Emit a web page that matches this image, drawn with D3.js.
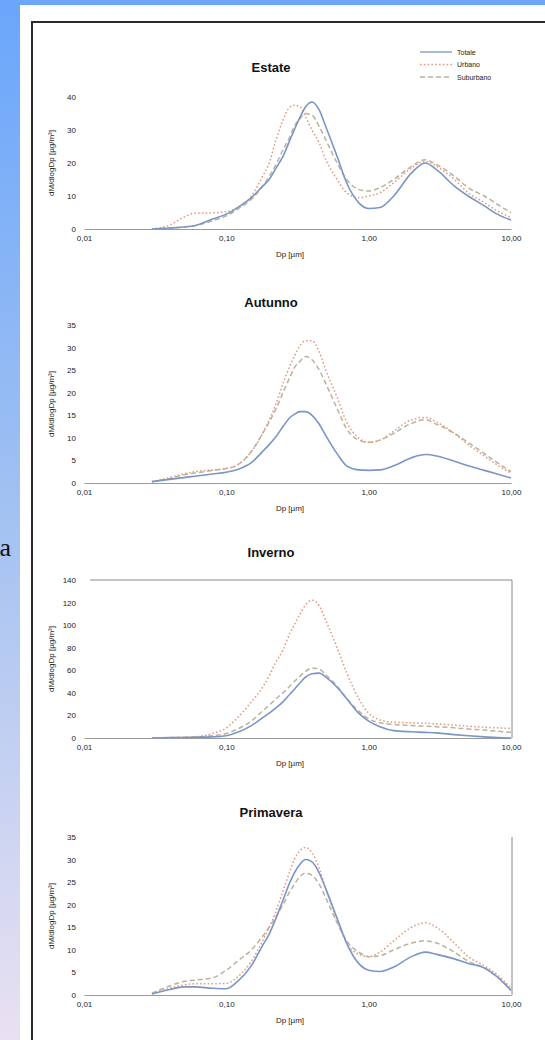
<!DOCTYPE html>
<html>
<head>
<meta charset="utf-8">
<script src="https://cdn.jsdelivr.net/npm/d3@7"></script>
<style>
  html, body { margin: 0; padding: 0; background: #fff; }
  svg { display: block; }
</style>
</head>
<body>
<svg id="chart" width="545" height="1040"></svg>
<script>
// Particle diameter grid, µm (shared by all seasons)
const dp = [0.03, 0.04, 0.05, 0.06, 0.08, 0.1, 0.12, 0.15, 0.18, 0.2, 0.22, 0.25, 0.28, 0.3,
            0.33, 0.36, 0.4, 0.45, 0.5, 0.6, 0.7, 0.85, 1, 1.2, 1.5, 2, 2.5, 3, 4, 5, 6.5, 8, 10];

const seasons = ["Estate", "Autunno", "Inverno", "Primavera"];
const seriesNames = ["Totale", "Urbano", "Suburbano"];

// dM/dlogDp per season and series
const estateTotale    = [0, 0.3, 0.6, 1, 3, 4.5, 6.5, 9.5, 13, 15, 18, 22, 27, 30, 34, 37, 38.5, 36, 31, 22, 14, 8, 6.2, 6.5, 10, 17, 20, 18, 13, 10, 7, 4.5, 2.7];
const estateUrbano    = [0, 1.2, 3.5, 4.8, 4.9, 5.2, 6.5, 10, 16, 20, 26, 33, 37, 37.5, 37, 34, 30, 26, 21, 15, 11, 9.5, 10, 11, 14, 18.5, 20.5, 19, 15, 11, 8, 5.5, 3.5];
const estateSuburb    = [0, 0.3, 0.6, 1, 2.5, 4, 6, 9, 13, 16, 19, 24, 28, 31, 33.5, 35, 34.5, 31, 27, 20, 15, 12, 11.5, 12.5, 15, 19, 21, 19.5, 16, 12.5, 10, 7.5, 5];

const autunnoTotale   = [0.3, 0.8, 1.2, 1.5, 2, 2.4, 3, 4.5, 7, 8.5, 10, 12.5, 14.5, 15.2, 15.8, 15.8, 15, 13, 10.5, 6.5, 3.8, 2.9, 2.8, 2.9, 3.8, 5.6, 6.3, 6, 4.8, 3.8, 2.8, 2, 1.1];
const autunnoUrbano   = [0.3, 1.2, 2, 2.5, 2.9, 3.2, 4, 7, 11, 14, 17, 22, 26, 28, 30.5, 31.5, 31.5, 29, 25, 19, 13.5, 10, 9, 9.5, 11.5, 14, 14.5, 13.5, 11, 8.5, 6, 4, 2.2];
const autunnoSuburb   = [0.3, 1, 1.8, 2.2, 2.8, 3.2, 4, 7, 11, 13.5, 16, 20, 23.5, 25.5, 27, 28, 27.3, 25, 22, 16.5, 12, 9.5, 9, 9.5, 11, 13.2, 14, 13, 11, 9, 6.5, 4.5, 2.5];

const invernoTotale   = [0, 0.3, 0.5, 0.7, 1, 2, 5, 11, 18, 22, 26, 32, 39, 43, 49, 54, 57, 57.5, 54, 45, 35, 22, 15, 10, 6.5, 5.5, 5, 4.5, 3, 2, 1, 0.3, 0];
const invernoUrbano   = [0, 0.3, 0.6, 1, 4, 9, 18, 32, 45, 55, 66, 78, 93, 100, 110, 118, 122, 117, 104, 80, 58, 35, 22, 16, 14, 13.5, 13, 12.5, 11.5, 10.5, 9.5, 9, 8.5];
const invernoSuburb   = [0, 0.3, 0.6, 1, 2, 4, 8, 15, 24, 29, 34, 40, 46, 50, 55, 59, 62, 61, 56, 46, 35, 24, 17, 13.5, 12, 11, 10.5, 10, 9, 8, 7, 6, 5];

const primaveraTotale = [0.2, 1.2, 1.8, 1.8, 1.5, 1.4, 3, 6.5, 11, 13.5, 16.5, 21, 25, 27, 29, 30, 29.5, 27, 23.5, 17, 11.5, 7, 5.5, 5.2, 6.2, 8.5, 9.5, 9, 8, 7, 6, 4, 1];
const primaveraUrbano = [0.3, 1.5, 2.2, 2.5, 2.5, 2.6, 4, 7.5, 12, 15, 18, 23, 27.5, 30, 32, 32.7, 31.5, 28, 23.5, 16.5, 11.5, 9, 8.5, 9.5, 12, 15, 16, 15, 11.5, 8.5, 6.5, 4.5, 1.5];
const primaveraSuburb = [0.4, 2, 3, 3.3, 3.8, 5.5, 7.5, 10, 13, 15, 17, 20, 23, 24.5, 26.3, 27, 26.5, 24.5, 21.5, 16, 12, 9.5, 8.5, 8.7, 10, 11.5, 12, 11.5, 9.5, 7.5, 6, 4, 1.2];

// y axis extents and tick steps per season
const yMaxes = [40, 35, 140, 35];
const ySteps = [10, 5, 20, 5];

// x axis ticks
const xTicks = [0.01, 0.1, 1, 10];
const xTickLabels = ["0,01", "0,10", "1,00", "10,00"];

const seasonSeries = [
  [estateTotale, estateUrbano, estateSuburb],
  [autunnoTotale, autunnoUrbano, autunnoSuburb],
  [invernoTotale, invernoUrbano, invernoSuburb],
  [primaveraTotale, primaveraUrbano, primaveraSuburb]
];

const svg = d3.select("#chart");

// ---- page background: blue side band and white sheet with dark frame
const defs = svg.append("defs");
const grad = defs.append("linearGradient").attr("id", "side").attr("x1", 0).attr("y1", 0).attr("x2", 0).attr("y2", 1);
grad.append("stop").attr("offset", "0%").attr("stop-color", "#6aa6fb");
grad.append("stop").attr("offset", "45%").attr("stop-color", "#9dbff2");
grad.append("stop").attr("offset", "100%").attr("stop-color", "#e9e1f1");

svg.append("rect").attr("width", 545).attr("height", 1040).attr("fill", "url(#side)");
svg.append("rect").attr("x", 0).attr("y", 0).attr("width", 545).attr("height", 5).attr("fill", "#6aa6fb");
svg.append("rect").attr("x", 20).attr("y", 5).attr("width", 525).attr("height", 1035).attr("fill", "#ffffff");
svg.append("rect").attr("x", 32).attr("y", 22).attr("width", 600).attr("height", 1100)
  .attr("fill", "none").attr("stroke", "#2a2a2a").attr("stroke-width", 2);

svg.append("text").attr("x", 11).attr("y", 556).attr("text-anchor", "end")
  .attr("font-family", "Liberation Serif, DejaVu Serif, serif").attr("font-size", 26)
  .attr("fill", "#111").text("a");

// ---- panels
const plotLeft = 84, plotRight = 511;
const panelTop = [97, 325, 580, 837];
const panelBase = [229, 483, 738, 995];
const titleY = [72, 307, 557, 817];

const x = d3.scaleLog().domain([0.01, 10]).range([plotLeft, plotRight]);

const styles = [
  { color: "#7b95c6", dash: null, width: 1.6 },
  { color: "#e59a80", dash: "1.6,2.2", width: 1.5 },
  { color: "#b9b39c", dash: "5,3", width: 1.5 }
];

seasons.forEach((name, i) => {
  const g = svg.append("g");
  const y = d3.scaleLinear().domain([0, yMaxes[i]]).range([panelBase[i], panelTop[i]]);

  g.append("text").attr("x", 271).attr("y", titleY[i]).attr("text-anchor", "middle")
    .attr("font-family", "Liberation Sans, Arial, sans-serif").attr("font-weight", "bold")
    .attr("font-size", 13).attr("fill", "#111").text(name);

  // frame for the winter and spring plots
  if (i === 2) {
    g.append("line").attr("x1", plotLeft + 6).attr("x2", plotRight + 1)
      .attr("y1", y(yMaxes[i])).attr("y2", y(yMaxes[i])).attr("stroke", "#8a8a8a");
  }
  if (i >= 2) {
    g.append("line").attr("x1", plotRight + 1).attr("x2", plotRight + 1)
      .attr("y1", y(yMaxes[i])).attr("y2", y(0)).attr("stroke", "#8a8a8a");
  }

  // y tick labels
  const yAxis = d3.axisLeft(y).tickValues(d3.range(0, yMaxes[i] + 0.001, ySteps[i]))
    .tickSize(0).tickPadding(0).tickFormat(d3.format("d"));
  const ya = g.append("g").attr("transform", `translate(${plotLeft - 8},0)`).call(yAxis);
  ya.select(".domain").remove();
  ya.selectAll("text").attr("font-family", "Liberation Sans, Arial, sans-serif")
    .attr("font-size", 8).attr("fill", "#222");

  // y axis title
  g.append("text")
    .attr("transform", `translate(54,${(panelTop[i] + panelBase[i]) / 2}) rotate(-90)`)
    .attr("text-anchor", "middle").attr("font-family", "Liberation Sans, Arial, sans-serif")
    .attr("font-size", 8).attr("fill", "#222").text("dM/dlogDp [µg/m³]");

  // x axis
  const xAxis = d3.axisBottom(x).tickValues(xTicks).tickSize(0).tickPadding(6)
    .tickFormat((d, k) => xTickLabels[k]);
  const xa = g.append("g").attr("transform", `translate(0,${panelBase[i]})`).call(xAxis);
  xa.select(".domain").attr("stroke", "#9a9a9a").attr("stroke-width", 1.2);
  xa.selectAll("text").attr("font-family", "Liberation Sans, Arial, sans-serif")
    .attr("font-size", 8).attr("fill", "#222");

  g.append("text").attr("x", 290).attr("y", panelBase[i] + 28).attr("text-anchor", "middle")
    .attr("font-family", "Liberation Sans, Arial, sans-serif").attr("font-size", 8)
    .attr("fill", "#222").text("Dp [µm]");

  // curves (drawn back to front)
  const line = d3.line().x((d, k) => x(dp[k])).y(d => y(d)).curve(d3.curveMonotoneX);
  [2, 1, 0].forEach(s => {
    g.append("path").datum(seasonSeries[i][s])
      .attr("d", line).attr("fill", "none")
      .attr("stroke", styles[s].color).attr("stroke-width", styles[s].width)
      .attr("stroke-dasharray", styles[s].dash);
  });
});

// ---- legend
const legend = svg.append("g");
seriesNames.forEach((n, s) => {
  const ly = 52 + s * 12.5;
  legend.append("line").attr("x1", 420).attr("x2", 452).attr("y1", ly).attr("y2", ly)
    .attr("stroke", styles[s].color).attr("stroke-width", 1.3)
    .attr("stroke-dasharray", styles[s].dash);
  legend.append("text").attr("x", 457).attr("y", ly + 2.5)
    .attr("font-family", "Liberation Sans, Arial, sans-serif").attr("font-size", 7)
    .attr("fill", "#222").text(n);
});
</script>
</body>
</html>
